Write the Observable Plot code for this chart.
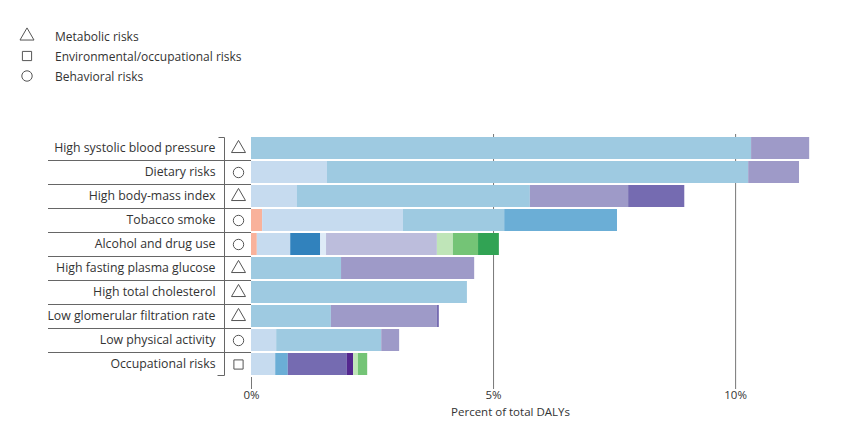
<!DOCTYPE html>
<html><head><meta charset="utf-8">
<script src="https://cdn.jsdelivr.net/npm/d3@7"></script>
<script src="https://cdn.jsdelivr.net/npm/@observablehq/plot@0.6"></script>
<style>
body{margin:0;background:#fff;font-family:"Open Sans",sans-serif;}
#legend{position:relative;height:120px;width:851px;}
.item{position:absolute;left:17px;height:20px;font-size:12px;color:#333;display:flex;align-items:center;}
.item svg{margin-right:18px;}
</style></head><body>
<div id="legend"></div>
<div id="chart"></div>
<script>
// ---- data ----
const risks = ["High systolic blood pressure","Dietary risks","High body-mass index","Tobacco smoke","Alcohol and drug use","High fasting plasma glucose","High total cholesterol","Low glomerular filtration rate","Low physical activity","Occupational risks"];
const riskTypes = ["Metabolic","Behavioral","Metabolic","Behavioral","Behavioral","Metabolic","Metabolic","Metabolic","Behavioral","Environmental/occupational"];
const typeKeys = ["Metabolic","Environmental/occupational","Behavioral"];
const legendLabels = ["Metabolic risks","Environmental/occupational risks","Behavioral risks"];
const typeSymbols = ["triangle","square","circle"];
const causes = ["Respiratory infections","Neoplasms","Cardiovascular diseases","Chronic respiratory diseases","Digestive diseases","Other digestive","Substance use disorders","Diabetes and kidney diseases","Musculoskeletal disorders","Neurological disorders","Transport injuries","Unintentional injuries","Self-harm and violence"];
const causeColors = ["#f9b29b","#c6dbef","#9ecae1","#6baed6","#3182bd","#deebf7","#bcbddc","#9e9ac8","#756bb1","#54278f","#bfe5b8","#74c476","#31a354"];
// values (percent of total DALYs) per cause, one entry per risk
const respiratoryInf = [0,0,0,0.23,0.12,0,0,0,0,0];
const neoplasms      = [0,1.57,0.95,2.91,0.69,0,0,0,0.52,0.50];
const cardiovascular = [10.33,8.70,4.81,2.09,0,1.86,4.46,1.65,2.17,0];
const chronicResp    = [0,0,0,2.33,0,0,0,0,0,0.26];
const digestive      = [0,0,0,0,0.62,0,0,0,0,0];
const otherDigestive = [0,0,0,0,0.12,0,0,0,0,0];
const substanceUse   = [0,0,0,0,2.29,0,0,0,0,0];
const diabetesKidney = [1.20,1.05,2.03,0,0,2.75,0,2.19,0.37,0];
const musculoskeletal= [0,0,1.16,0,0,0,0,0.04,0,1.22];
const neurological   = [0,0,0,0,0,0,0,0,0,0.13];
const transport      = [0,0,0,0,0.33,0,0,0,0,0.10];
const unintentional  = [0,0,0,0,0.52,0,0,0,0,0.19];
const selfHarm       = [0,0,0,0,0.43,0,0,0,0,0];
const xTicks = [0,5,10];
const xLabel = "Percent of total DALYs";

(function () {
const causeValues = [respiratoryInf,neoplasms,cardiovascular,chronicResp,digestive,otherDigestive,substanceUse,diabetesKidney,musculoskeletal,neurological,transport,unintentional,selfHarm];
const rows = [];
causes.forEach((c, ci) => causeValues[ci].forEach((v, ri) => { if (v > 0) rows.push({risk: risks[ri], cause: c, value: v}); }));
const riskRows = risks.map((r, i) => ({risk: r, type: riskTypes[i]}));

// ---- legend ----
const legend = d3.select("#legend");
legendLabels.forEach((lab, i) => {
  const it = legend.append("div").attr("class", "item").style("top", (26 + i * 20) + "px");
  const s = it.append("svg").attr("width", 20).attr("height", 20);
  const sym = {triangle: d3.symbolTriangle, square: d3.symbolSquare, circle: d3.symbolCircle}[typeSymbols[i]];
  s.append("path").attr("transform", "translate(10,10)")
    .attr("d", d3.symbol(sym, Math.PI * 5.2 * 5.2)())
    .attr("fill", "none").attr("stroke", "#555").attr("stroke-width", 1);
  it.append("span").text(lab);
});

// ---- chart ----
const plot = Plot.plot({
  width: 851,
  height: 317,
  marginLeft: 251,
  marginRight: 82,
  marginTop: 14,
  marginBottom: 60,
  style: {fontFamily: "'Open Sans', sans-serif", fontSize: "12px", color: "#333"},
  x: {domain: [0, 10.7]},
  y: {domain: risks, paddingInner: 0.1, paddingOuter: 0.05, label: null},
  color: {domain: causes, range: causeColors},
  symbol: {domain: typeKeys, range: typeSymbols},
  marks: [
    Plot.ruleX(xTicks.slice(1), {stroke: "#777", strokeWidth: 1}),
    Plot.barX(rows, Plot.stackX({x: "value", y: "risk", fill: "cause", order: causes})),
    Plot.axisY({tickSize: 0, tickPadding: 36, fontSize: 12.3, label: null}),
    Plot.axisX({ticks: xTicks, tickFormat: d => d + "%", tickSize: 12, tickPadding: 1, fontSize: 11.5, stroke: "#777", label: xLabel, labelAnchor: "center", labelOffset: 38, labelArrow: "none"}),
    Plot.dot(riskRows, {y: "risk", symbol: "type", frameAnchor: "left", dx: -13, r: 5.2, stroke: "#555", fill: "none", strokeWidth: 1})
  ]
});
document.getElementById("chart").appendChild(plot);

// separators and bracket (decoration, from the plot's own y scale)
const ys = plot.scale("y");
const gap = (ys.step - ys.bandwidth) / 2;
const svg = d3.select(plot);
const g = svg.append("g").attr("stroke", "#666").attr("stroke-width", 1).attr("fill", "none");
const xs = plot.scale("x");
const x0 = xs.apply(0);
risks.slice(1).forEach(r => {
  const yy = Math.round(ys.apply(r) - gap) + 0.5;
  g.append("line").attr("x1", 48).attr("x2", x0).attr("y1", yy).attr("y2", yy);
});
const yTop = Math.round(ys.apply(risks[0])) + 0.5;
const yBot = Math.round(ys.apply(risks[risks.length - 1]) + ys.bandwidth) + 0.5;
const bx = x0 - 26.5;
g.append("path").attr("d", `M${bx - 6},${yTop}H${bx}V${yBot}H${bx - 7}`);
})();
</script>
</body></html>
